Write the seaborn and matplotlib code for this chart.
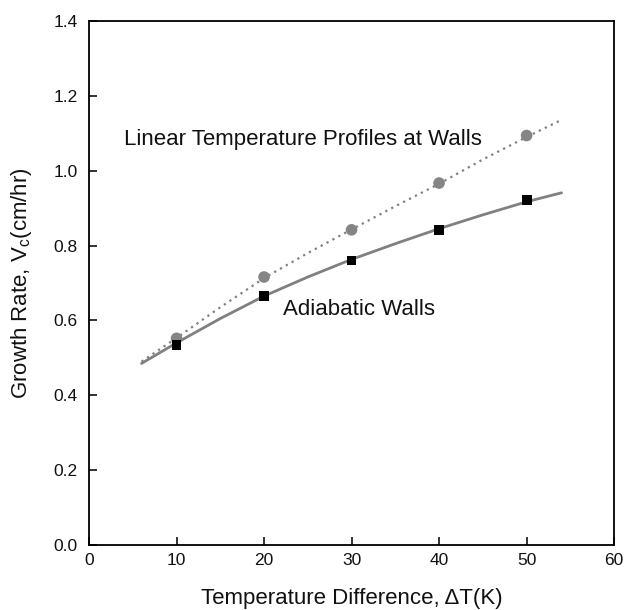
import matplotlib
matplotlib.use("Agg")
import matplotlib.pyplot as plt
import seaborn as sns
import pandas as pd

# Measured growth rates at each temperature difference
delta_t = [10, 20, 30, 40, 50]
rate_linear = [0.552, 0.716, 0.842, 0.967, 1.094]
rate_adiabatic = [0.534, 0.665, 0.760, 0.842, 0.921]

# Model curves for both wall conditions
curve_t = [6, 10, 15, 20, 25, 30, 35, 40, 45, 50, 54]
curve_linear = [0.490, 0.553, 0.635, 0.713, 0.780, 0.843, 0.905, 0.965, 1.030, 1.090, 1.136]
curve_adiabatic = [0.485, 0.540, 0.605, 0.665, 0.716, 0.763, 0.805, 0.845, 0.882, 0.917, 0.941]

x_ticks = [0, 10, 20, 30, 40, 50, 60]
y_ticks = [0.0, 0.2, 0.4, 0.6, 0.8, 1.0, 1.2, 1.4]

sns.set_theme(style="ticks")
plt.rcParams["font.family"] = ["Liberation Sans", "DejaVu Sans"]
plt.rcParams["mathtext.fontset"] = "custom"
plt.rcParams["mathtext.rm"] = "Liberation Sans"
plt.rcParams["mathtext.it"] = "Liberation Sans"

fig = plt.figure(figsize=(6.26, 6.10), dpi=100)
ax = fig.add_axes([0.1422, 0.1066, 0.8388, 0.859])

curves = pd.DataFrame({"t": curve_t, "lin": curve_linear, "adi": curve_adiabatic})
points = pd.DataFrame({"t": delta_t, "lin": rate_linear, "adi": rate_adiabatic})

sns.lineplot(data=curves, x="t", y="lin", ax=ax, color="#808080", lw=1.6,
             linestyle=(0, (1, 2)))
sns.lineplot(data=curves, x="t", y="adi", ax=ax, color="#808080", lw=2.0)
sns.scatterplot(data=points, x="t", y="lin", ax=ax, color="#858585", marker="o",
                s=70, edgecolor="none", zorder=3)
sns.scatterplot(data=points, x="t", y="adi", ax=ax, color="black", marker="s",
                s=50, edgecolor="none", zorder=3)

ax.text(4.0, 1.083, "Linear Temperature Profiles at Walls", fontsize=16,
        color="#111111", ha="left", va="center")
ax.text(22.2, 0.628, "Adiabatic Walls", fontsize=16, color="#111111",
        ha="left", va="center")

ax.set_xlim(0, 60)
ax.set_ylim(0, 1.4)
ax.set_xticks(x_ticks)
ax.set_yticks(y_ticks)
ax.set_yticklabels([f"{v:.1f}" for v in y_ticks])
ax.tick_params(direction="in", length=6, width=1.2, labelsize=12.5,
               colors="#111111", top=False, right=False)
ax.tick_params(axis="y", pad=8)
ax.tick_params(axis="x", pad=6)
for s in ax.spines.values():
    s.set_linewidth(1.3)
    s.set_color("black")

ax.set_xlabel("Temperature Difference, \u0394T(K)", fontsize=16, labelpad=14,
              color="#111111")
ax.set_ylabel("Growth Rate, V$_\\mathregular{c}$(cm/hr)", fontsize=16,
              labelpad=14, color="#111111")

fig.savefig("out.png", dpi=100)
